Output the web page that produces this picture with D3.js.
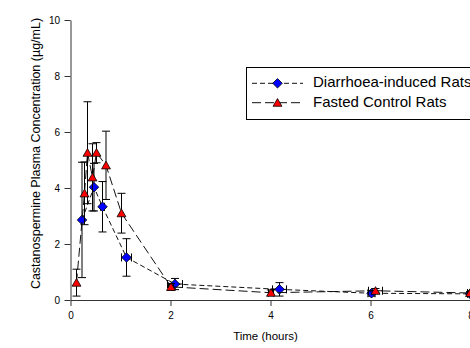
<!DOCTYPE html>
<html><head><meta charset="utf-8">
<script src="https://cdn.jsdelivr.net/npm/d3@7/dist/d3.min.js"></script>
<style>body{margin:0;background:#fff;} svg{display:block;font-family:"Liberation Sans",Arial,sans-serif;}</style>
</head><body>
<svg id="c" width="470" height="348"></svg>
<script>
// Diarrhoea-induced rats
const diarTime = [0.23, 0.47, 0.64, 1.12, 2.09, 4.18, 6.02, 7.99];
const diarConc = [2.86, 4.03, 3.33, 1.52, 0.57, 0.38, 0.24, 0.22];
const diarErr  = [2.06, 0.85, 0.90, 0.67, 0.20, 0.24, 0.10, 0.05];
const diarTErr = [0.00, 0.00, 0.04, 0.10, 0.15, 0.14, 0.07, 0.05];
// Fasted control rats
const fastTime = [0.12, 0.28, 0.34, 0.44, 0.52, 0.71, 1.02, 2.01, 4.01, 6.10, 7.99];
const fastConc = [0.62, 3.81, 5.26, 4.38, 5.26, 4.81, 3.10, 0.47, 0.26, 0.33, 0.25];
const fastErr  = [0.48, 1.12, 1.82, 1.20, 0.36, 1.22, 0.71, 0.12, 0.10, 0.08, 0.05];
const fastTErr = [0.00, 0.00, 0.00, 0.00, 0.00, 0.00, 0.00, 0.05, 0.05, 0.14, 0.05];

const xTicks = [0, 2, 4, 6, 8];
const yTicks = [0, 2, 4, 6, 8, 10];
const seriesNames = ["Diarrhoea-induced Rats", "Fasted Control Rats"];
const xTitle = "Time (hours)";
const yTitle = "Castanospermine Plasma Concentration (\u00b5g/mL)";

const svg = d3.select("#c");
const x = d3.scaleLinear().domain([0, 8]).range([70.5, 470.5]);
const y = d3.scaleLinear().domain([0, 10]).range([300, 20]);
const axisColor = "#333";

const gx = svg.append("g").attr("transform", "translate(0,300)")
  .call(d3.axisBottom(x).tickValues(xTicks).tickSize(6).tickSizeOuter(0).tickPadding(5.5).tickFormat(d3.format("d")));
const gy = svg.append("g").attr("transform", "translate(70.5,0)")
  .call(d3.axisLeft(y).tickValues(yTicks).tickSize(6).tickSizeOuter(0).tickPadding(4.5).tickFormat(d3.format("d")));
[gx, gy].forEach(g => {
  g.selectAll("path,line").attr("stroke", axisColor);
  g.selectAll("text").attr("font-size", 10).attr("fill", "#000").attr("font-family", "Liberation Sans, Arial, sans-serif");
});

svg.append("text").attr("x", 265.5).attr("y", 337).attr("text-anchor", "middle")
  .attr("dominant-baseline", "middle").attr("font-size", 11.5).text(xTitle);
svg.append("text").attr("transform", "translate(37,153.5) rotate(-90)").attr("text-anchor", "middle")
  .attr("dominant-baseline", "middle").attr("font-size", 12.5).text(yTitle);

const series = [
  {t: diarTime, c: diarConc, e: diarErr, te: diarTErr, color: "#0000ff", shape: d3.symbolDiamond2, dash: "5,3", size: 58},
  {t: fastTime, c: fastConc, e: fastErr, te: fastTErr, color: "#ff0000", shape: d3.symbolTriangle, dash: "9,4", size: 34}
];

const line = d3.line().x(d => x(d[0])).y(d => y(d[1]));
series.forEach(s => {
  const pts = s.t.map((t, i) => [t, s.c[i], s.e[i], s.te[i]]);
  const g = svg.append("g");
  g.append("path").attr("d", line(pts)).attr("fill", "none").attr("stroke", "#111")
    .attr("stroke-width", 1).attr("stroke-dasharray", s.dash);
  const cap = 4;
  pts.forEach(p => {
    const cx = x(p[0]), cy = y(p[1]);
    const yt = y(p[1] + p[2]), yb = y(Math.max(0, p[1] - p[2]));
    g.append("line").attr("x1", cx).attr("x2", cx).attr("y1", yt).attr("y2", yb).attr("stroke", "#000");
    g.append("line").attr("x1", cx - cap).attr("x2", cx + cap).attr("y1", yt).attr("y2", yt).attr("stroke", "#000");
    g.append("line").attr("x1", cx - cap).attr("x2", cx + cap).attr("y1", yb).attr("y2", yb).attr("stroke", "#000");
    if (p[3] > 0) {
      const xl = x(p[0] - p[3]), xr = x(p[0] + p[3]);
      g.append("line").attr("x1", xl).attr("x2", xr).attr("y1", cy).attr("y2", cy).attr("stroke", "#000");
      g.append("line").attr("x1", xl).attr("x2", xl).attr("y1", cy - cap).attr("y2", cy + cap).attr("stroke", "#000");
      g.append("line").attr("x1", xr).attr("x2", xr).attr("y1", cy - cap).attr("y2", cy + cap).attr("stroke", "#000");
    }
  });
  pts.forEach(p => {
    g.append("path").attr("d", d3.symbol().type(s.shape).size(s.size)())
      .attr("transform", `translate(${x(p[0])},${y(p[1]) + (s.shape === d3.symbolTriangle ? 1 : 0)})`)
      .attr("fill", s.color).attr("stroke", "#000").attr("stroke-width", 0.8);
  });
});

// Legend
const lg = svg.append("g");
lg.append("rect").attr("x", 246.5).attr("y", 67.5).attr("width", 300).attr("height", 52)
  .attr("fill", "#fff").attr("stroke", "#000").attr("stroke-width", 1);
const rows = [83.3, 102.7];
series.forEach((s, i) => {
  const ry = rows[i];
  lg.append("line").attr("x1", 252).attr("x2", 303).attr("y1", ry).attr("y2", ry)
    .attr("stroke", "#111").attr("stroke-dasharray", s.dash);
  lg.append("path").attr("d", d3.symbol().type(s.shape).size(s.size)())
    .attr("transform", `translate(277.5,${ry + (s.shape === d3.symbolTriangle ? 1 : 0)})`)
    .attr("fill", s.color).attr("stroke", "#000").attr("stroke-width", 0.8);
  lg.append("text").attr("x", 313).attr("y", ry).attr("dominant-baseline", "middle")
    .attr("font-size", 15).text(seriesNames[i]);
});
</script>
</body></html>
